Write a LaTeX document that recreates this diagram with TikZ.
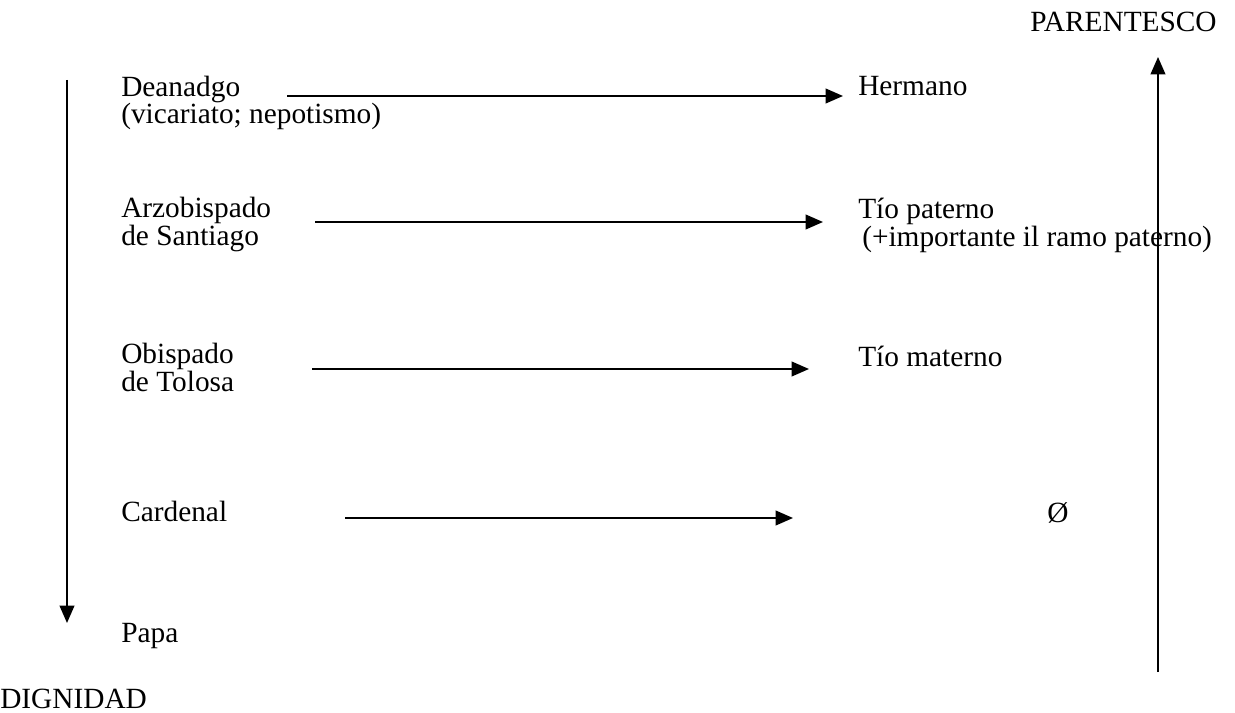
\documentclass[tikz,border=0pt]{standalone}
\usepackage{fontspec}
\setmainfont{Liberation Serif}
\usetikzlibrary{arrows.meta}
\newcommand\mylblfont{\fontsize{22pt}{20.6pt}\selectfont\setlength{\lineskiplimit}{-20pt}}
\begin{document}
\begin{tikzpicture}[x=0.75pt,y=-0.75pt,
  lbl/.style={anchor=base west,inner sep=0pt,align=left,font=\mylblfont},
  arr/.style={line width=1.4pt,-{Triangle[length=13pt,width=11pt]}}]
\useasboundingbox (0,0) rectangle (1235,713);
% left column
\node[lbl] (dean) at (121,124) {Deanadgo\\(vicariato; nepotismo)};
\node[lbl] (arzo) at (121,245) {Arzobispado\\de Santiago};
\node[lbl] (obis) at (121,391) {Obispado\\de Tolosa};
\node[lbl] (card) at (121,521) {Cardenal};
\node[lbl] (papa) at (121,642) {Papa};
\node[lbl] (dign) at (0,708) {DIGNIDAD};
% right column
\node[lbl] (pare) at (1030,32) {PARENTESCO};
\node[lbl] (herm) at (858,96) {Hermano};
\node[lbl] (tiop) at (858,246) {Tío paterno\\\hspace*{3pt}(+importante il ramo paterno)};
\node[lbl] (tiom) at (858,366) {Tío materno};
\node[lbl] (vaci) at (1047,522) {Ø};
% arrow end points
\coordinate (a1s) at (287,96);  \coordinate (a1e) at (843,96);
\coordinate (a2s) at (315,222); \coordinate (a2e) at (823,222);
\coordinate (a3s) at (312,369); \coordinate (a3e) at (809,369);
\coordinate (a4s) at (345,518); \coordinate (a4e) at (793,518);
\coordinate (ls) at (67,80);    \coordinate (le) at (67,623);
\coordinate (rs) at (1158,672); \coordinate (re) at (1158,57);
\draw[arr] (a1s) -- (a1e);
\draw[arr] (a2s) -- (a2e);
\draw[arr] (a3s) -- (a3e);
\draw[arr] (a4s) -- (a4e);
\draw[arr] (ls) -- (le);
\draw[arr] (rs) -- (re);
\end{tikzpicture}
\end{document}
